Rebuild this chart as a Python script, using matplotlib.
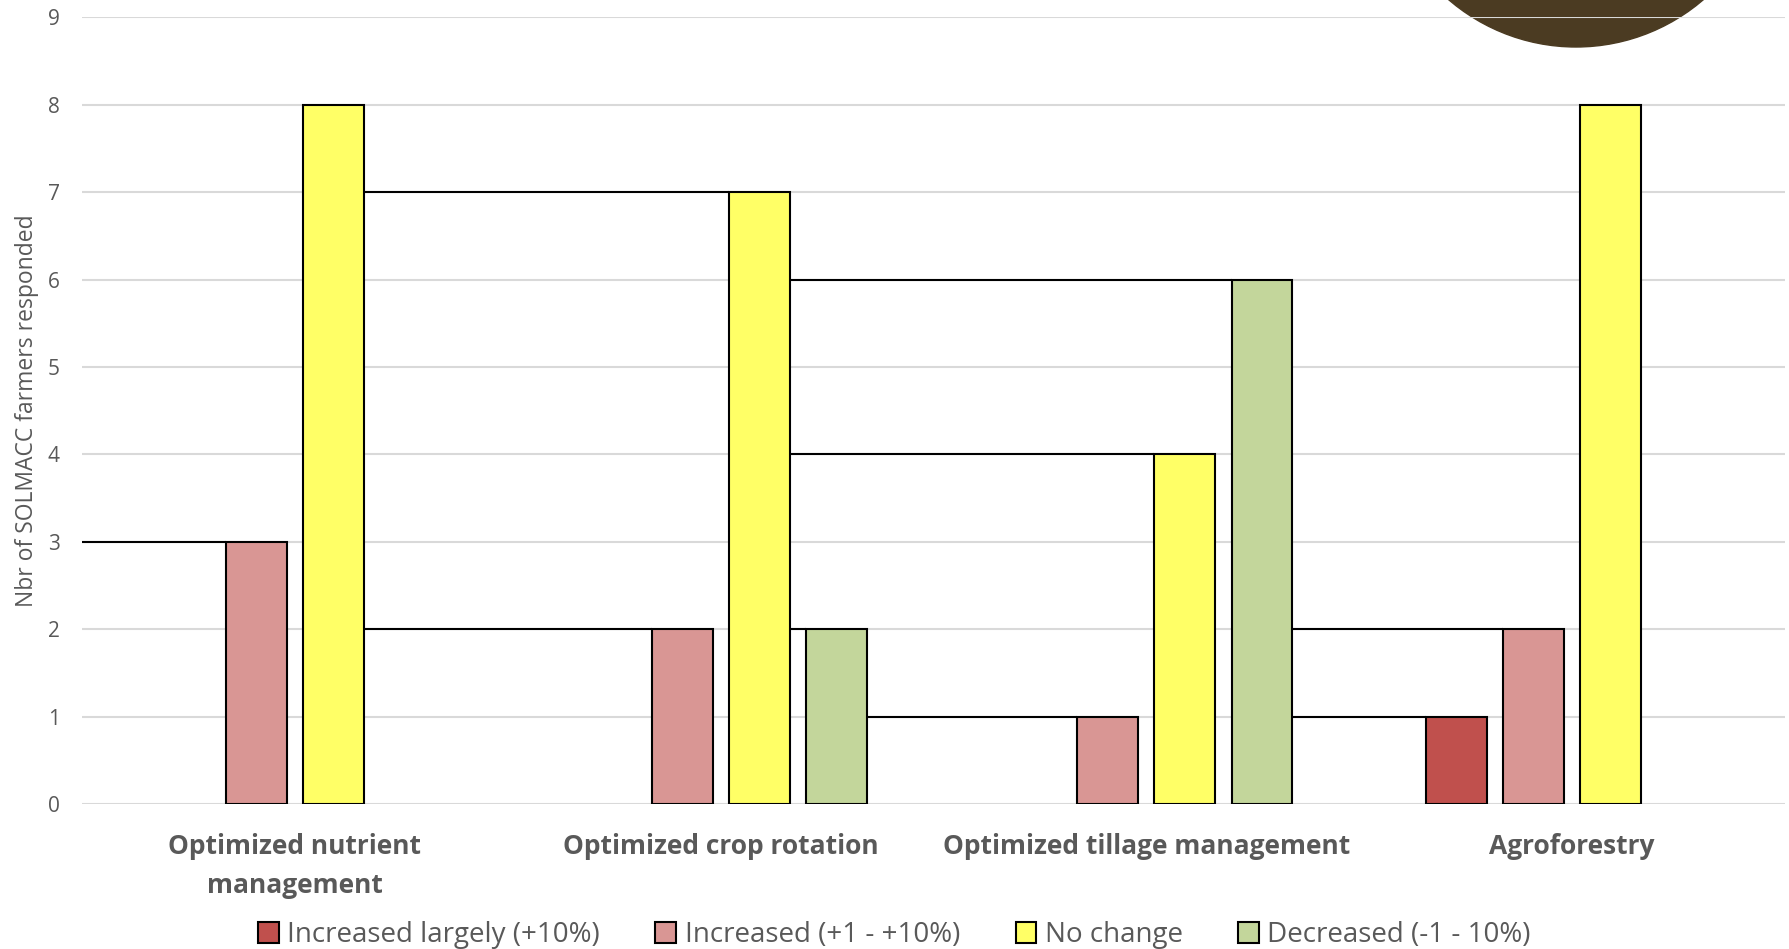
import matplotlib
matplotlib.use("Agg")
import matplotlib.pyplot as plt
from matplotlib.patches import Ellipse
import numpy as np

plt.rcParams['font.family'] = ['Open Sans', 'DejaVu Sans']

categories = ['Optimized nutrient\nmanagement', 'Optimized crop rotation',
              'Optimized tillage management', 'Agroforestry']
series = ['Increased largely (+10%)', 'Increased (+1 - +10%)', 'No change', 'Decreased (-1 - 10%)']
increased_largely = [0, 0, 0, 1]
increased = [3, 2, 1, 2]
no_change = [8, 7, 4, 8]
decreased = [0, 2, 6, 0]
colors = ['#C0504D', '#D99694', '#FFFF66', '#C3D69B']

# odd horizontal connector lines seen in the source: (from bar, to bar) as (series, category)
connectors = [(None, (1, 0)), ((2, 0), (1, 1)), ((2, 0), (2, 1)), ((2, 1), (3, 1)),
              ((3, 1), (1, 2)), ((2, 1), (2, 2)), ((2, 1), (3, 2)),
              ((3, 2), (0, 3)), ((3, 2), (1, 3))]

values = np.array([increased_largely, increased, no_change, decreased])
text_col = '#595959'

fig = plt.figure(figsize=(17.89, 9.49), dpi=100)
ax = fig.add_axes([0.0458, 0.1528, 0.952, 0.829])
ax.set_facecolor('none')

# logo-ish brown circle peeking in from the top
fig.patches.append(Ellipse((1576 / 1789, 1 + 148 / 949), 2 * 195 / 1789, 2 * 195 / 949,
                           transform=fig.transFigure, color='#4B3B22', zorder=-1))

x = np.arange(len(categories))
width = 0.143
pitch = 0.181
offsets = (np.arange(4) - 1.5) * pitch

for i, name in enumerate(series):
    vals = values[i]
    keep = vals > 0  # empty bars are not drawn at all in the source
    ax.bar(x[keep] + offsets[i], vals[keep], width, color=colors[i], edgecolor='black',
           linewidth=1.5, label=name, zorder=3)

for start, end in connectors:
    s, c = end
    h = values[s, c]
    x1 = c + offsets[s] - width / 2
    if start is None:
        x0 = -0.5
    else:
        x0 = start[1] + offsets[start[0]] + width / 2
    ax.hlines(h, x0, x1, color='black', linewidth=1.5, zorder=2)

ax.set_xlim(-0.5, 3.5)
ax.set_ylim(0, 9)
ax.set_yticks(range(10))
ax.grid(axis='y', color='#D9D9D9', linewidth=1.5, zorder=0)
for sp in ax.spines.values():
    sp.set_visible(False)
ax.tick_params(axis='y', length=0, pad=16, labelsize=15, labelcolor=text_col)
ax.set_xticks(x)
ax.set_xticklabels(categories, fontsize=19, fontweight='bold', color=text_col, linespacing=1.55)
ax.tick_params(axis='x', length=0, pad=21)
ax.set_ylabel('Nbr of SOLMACC farmers responded', fontsize=16.5, color=text_col)
ax.yaxis.set_label_coords(-0.0255, 0.5)

leg = fig.legend(loc='center', bbox_to_anchor=(0.5, 0.0145), ncol=4, frameon=False,
                 fontsize=20, handlelength=0.75, handleheight=0.75, handletextpad=0.3,
                 columnspacing=2.0, labelcolor=text_col)

fig.savefig('out.png', dpi=100, facecolor='white')
